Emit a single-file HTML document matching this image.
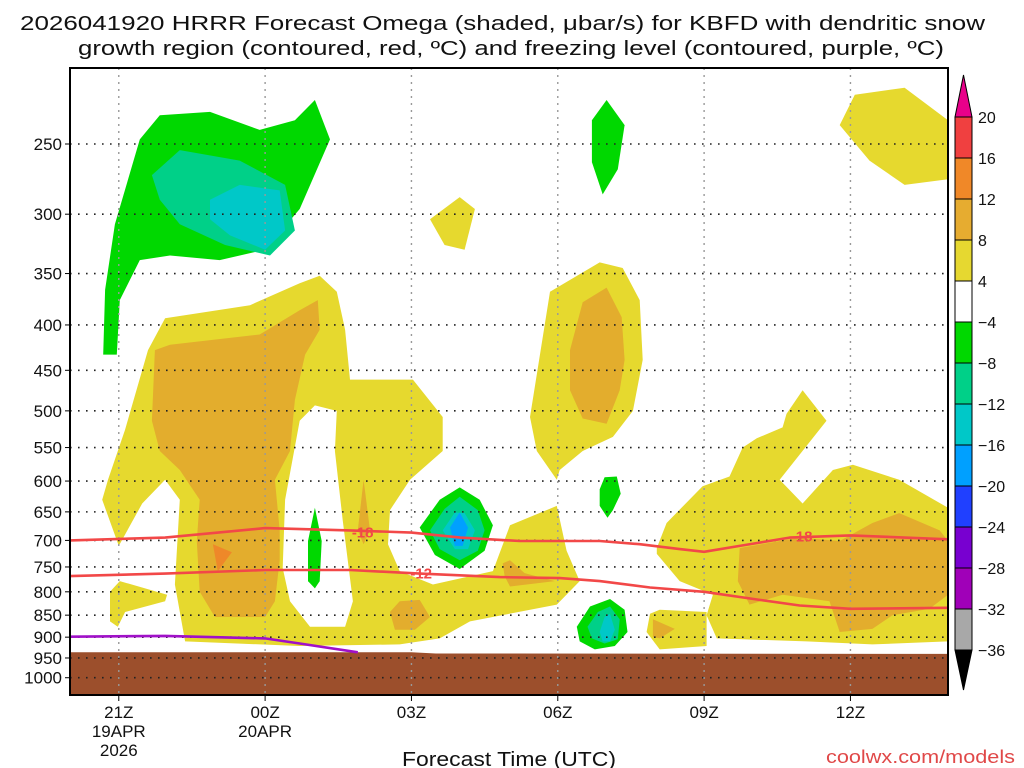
<!DOCTYPE html>
<html><head><meta charset="utf-8"><title>HRRR Omega KBFD</title>
<style>
html,body{margin:0;padding:0;background:#fff;width:1024px;height:768px;overflow:hidden}
svg{display:block}
text{font-family:"Liberation Sans","DejaVu Sans",sans-serif;fill:#111}
</style></head>
<body>
<svg id="chart" width="1024" height="768" viewBox="0 0 1024 768" xmlns="http://www.w3.org/2000/svg">
<text x="20" y="30" font-size="20" textLength="965" lengthAdjust="spacingAndGlyphs">2026041920 HRRR Forecast Omega (shaded, μbar/s) for KBFD with dendritic snow</text>
<text x="78" y="55" font-size="20" textLength="866" lengthAdjust="spacingAndGlyphs">growth region (contoured, red, ºC) and freezing level (contoured, purple, ºC)</text>
<g id="plot"></g>
<g id="axes"></g>
<g id="cbar"></g>
<text x="509" y="766" font-size="20" text-anchor="middle" textLength="214" lengthAdjust="spacingAndGlyphs">Forecast Time (UTC)</text>
<text x="826" y="763" font-size="18" style="fill:#e04848" textLength="189" lengthAdjust="spacingAndGlyphs">coolwx.com/models</text>
</svg>
<script>
// ---- data ----
const pressureTicks = [250,300,350,400,450,500,550,600,650,700,750,800,850,900,950,1000];
const timeTickHours = [1,4,7,10,13,16];
const timeTickLabels = [["21Z","19APR","2026"],["00Z","20APR"],["03Z"],["06Z"],["09Z"],["12Z"]];
const cbarLevels = [20,16,12,8,4,-4,-8,-12,-16,-20,-24,-28,-32,-36];
const cbarColors = ["#f04040","#f08828","#e6ac30","#e6d830","#ffffff","#00d800","#00d088","#00c8c8","#00a0ff","#2040ff","#7800d0","#a000b8","#a8a8a8"];
const surfaceHours = [0,7,7.5,18];
const surfacePressure = [936,936,939,940];
const dgzTopHours = [0,1.95,4,5.74,7,8,9.22,10.86,11.68,12.5,13,13.73,14.75,16,18];
const dgzTopP = [700,695,678,682,686,695,701,701,707,716,721,710,695,691,698];
const dgzBotHours = [0,1.95,4,5.74,7.17,8.81,10.04,10.86,11.89,13,14.14,14.96,16,18];
const dgzBotP = [768,763,756,756,763,770,772,778,791,800,817,829,836,834];
const frzHours = [0,1.95,4,4.71,5.9];
const frzP = [899,897,903,915,936];
const contourLabels = [["-18",6.0,686],["-18",15.0,693],["-12",7.2,763]];
// omega shaded regions [hour, pressure]
const yellowMain = [[0.78,598],[1.13,525],[1.6,427],[1.95,393],[3.69,380],[4.71,359],[5.12,352],[5.47,367],[5.64,405],[5.74,461],[7.03,461],[7.64,508],[7.64,555],[6.97,598],[6.56,647],[6.52,707],[6.76,758],[7.44,785],[8.67,758],[9.02,673],[9.98,640],[10.18,719],[10.45,778],[9.98,827],[8.2,864],[7.58,903],[6.76,917],[4.71,921],[2.36,910],[2.15,785],[2.25,630],[1.95,598],[1.48,636],[1.0,710],[0.66,630]];
const whiteHole = [[4.71,513],[5.02,493],[5.47,500],[5.43,555],[5.59,664],[5.8,820],[5.64,876],[4.92,876],[4.51,820],[4.36,752],[4.41,630]];
const yellowLeftBlob = [[0.82,800],[1.02,778],[1.99,806],[1.95,820],[1.13,843],[0.98,876],[0.82,864]];
const yellow06Z = [[9.43,508],[9.84,367],[10.86,340],[11.33,345],[11.68,375],[11.74,438],[11.54,500],[11.13,535],[10.51,555],[10.04,583],[9.98,598],[9.57,555]];
const yellowSmall = [[7.38,304],[7.99,287],[8.3,296],[8.09,329],[7.68,325]];
const yellowTopRight = [[15.78,238],[16.09,220],[17.11,216],[18,235],[18,274],[17.11,278],[16.39,261]];
const yellowRight = [[12.03,714],[12.23,669],[12.97,608],[13.52,593],[13.79,550],[14.08,537],[14.61,522],[14.69,504],[15.02,474],[15.51,513],[14.55,598],[15.02,636],[15.64,583],[16.05,575],[17.0,598],[18,643],[18,910],[16.45,917],[15.1,910],[13.26,903],[13.05,850],[13.18,806],[12.5,778],[12.03,725]];
const yellowTongue = [[11.89,847],[12.09,838],[13.05,843],[13.05,921],[12.09,929],[11.82,888]];
const orangeLeft = [[1.74,427],[2.05,421],[3.89,410],[4.71,385],[5.08,375],[5.12,405],[4.82,432],[4.61,486],[4.51,555],[4.2,598],[4.3,682],[4.3,737],[4.2,820],[4.0,854],[2.97,854],[2.66,800],[2.6,701],[2.66,630],[2.25,583],[1.84,555],[1.68,513]];
const orange06Z = [[10.25,427],[10.51,377],[11.0,363],[11.31,392],[11.37,438],[11.27,474],[11.0,517],[10.51,510],[10.25,474]];
const orangeRight = [[13.73,714],[14.96,695],[15.78,701],[16.45,669],[17.0,652],[17.83,682],[18,701],[18,806],[17.62,836],[16.86,850],[16.45,881],[15.78,888],[15.57,820],[14.61,806],[13.93,827],[13.69,778]];
const orangeStrip = [[6.02,598],[6.15,682],[6.02,707],[5.9,682]];
const orange03Z = [[6.56,843],[6.76,820],[7.17,817],[7.38,854],[7.07,883],[6.66,883]];
const orange05Z = [[8.87,743],[9.02,737],[9.32,762],[9.94,778],[9.02,789],[8.91,768]];
const orangeTinyRight = [[11.95,859],[12.4,881],[12.09,903],[11.95,899]];
const darkOrangeLeft = [[2.93,707],[3.32,722],[3.03,758]];
const greenTopLeft = [[0.68,432],[0.72,365],[0.92,308],[1.43,247],[1.84,232],[2.87,230],[3.89,241],[4.61,235],[5.02,223],[5.33,247],[4.71,296],[4.0,329],[3.07,338],[2.05,334],[1.43,338],[1.02,375],[0.96,432]];
const tealTopLeft = [[1.68,271],[2.25,254],[3.48,261],[4.41,278],[4.61,313],[4.1,334],[3.18,325],[2.25,308],[1.84,289]];
const cyanTopLeft = [[2.87,289],[3.48,278],[4.3,282],[4.41,313],[4.0,329],[3.28,317],[2.87,304]];
const greenTopMid = [[11.0,223],[11.37,238],[11.23,267],[10.92,285],[10.7,262],[10.7,235]];
const green01Z = [[5.02,643],[5.16,701],[5.12,778],[5.02,793],[4.88,778],[4.88,701]];
const green04Z = [[7.17,677],[7.58,630],[7.99,610],[8.4,630],[8.67,673],[8.5,719],[7.99,754],[7.48,727]];
const teal04Z = [[7.38,682],[7.68,645],[7.99,625],[8.36,647],[8.5,682],[8.36,719],[7.99,737],[7.58,716]];
const cyan04Z = [[7.64,682],[7.89,651],[8.09,652],[8.3,682],[8.16,716],[7.89,716]];
const blue04Z = [[7.79,677],[7.99,651],[8.16,677],[8.05,710],[7.89,710]];
const green07Zsmall = [[10.86,613],[10.96,594],[11.21,593],[11.29,620],[11.13,647],[11.02,660],[10.86,640]];
const green07Z = [[10.39,876],[10.66,831],[11.07,815],[11.37,838],[11.43,888],[11.17,921],[10.76,929],[10.45,910]];
const teal07Z = [[10.61,876],[10.82,843],[11.07,831],[11.27,859],[11.23,905],[10.96,915],[10.7,903]];
const cyan07Z = [[10.86,888],[10.96,854],[11.07,847],[11.17,883],[11.07,910],[10.92,910]];

// ---- axes ----
const X0=70, X1=948, Y0=68, Y1=695, H_MAX=18;
const P_REF=250, Y_REF=144, LOG_SCALE=385;
function xScale(h){return X0 + h*(X1-X0)/H_MAX;}
function yScale(p){return Y_REF + LOG_SCALE*Math.log(p/P_REF);}
const NS="http://www.w3.org/2000/svg";
function mk(tag,attrs,parent){const e=document.createElementNS(NS,tag);for(const k in attrs)e.setAttribute(k,attrs[k]);parent.appendChild(e);return e;}
function ptsStr(arr){return arr.map(d=>xScale(d[0]).toFixed(1)+","+yScale(d[1]).toFixed(1)).join(" ");}

const plot=document.getElementById("plot");
const defs=mk("defs",{},plot);
const cp=mk("clipPath",{id:"clip"},defs);
mk("rect",{x:X0,y:Y0,width:X1-X0,height:Y1-Y0},cp);
const g=mk("g",{"clip-path":"url(#clip)"},plot);
mk("rect",{x:X0,y:Y0,width:X1-X0,height:Y1-Y0,fill:"#fff"},g);

const Y="#e6d92e",O="#e3ad2d",DO="#ee8829",G="#00d800",T="#00d088",C="#00c8c8",B="#00a0ff",W="#ffffff";
const shapes=[
 [yellowMain,Y,"omega-4-8-main"],[whiteHole,W,"omega-neutral-gap"],[yellowLeftBlob,Y,"omega-4-8-left-blob"],
 [yellow06Z,Y,"omega-4-8-06z"],[yellowSmall,Y,"omega-4-8-small"],[yellowTopRight,Y,"omega-4-8-top-right"],
 [yellowRight,Y,"omega-4-8-right"],[yellowTongue,Y,"omega-4-8-tongue"],
 [orangeLeft,O,"omega-8-12-left"],[orange06Z,O,"omega-8-12-06z"],[orangeRight,O,"omega-8-12-right"],
 [orangeStrip,O,"omega-8-12-strip"],[orange03Z,O,"omega-8-12-03z"],[orange05Z,O,"omega-8-12-05z"],
 [orangeTinyRight,O,"omega-8-12-tiny"],[darkOrangeLeft,DO,"omega-12-16-left"],
 [greenTopLeft,G,"omega-neg4-neg8-top-left"],[tealTopLeft,T,"omega-neg8-neg12-top-left"],[cyanTopLeft,C,"omega-neg12-neg16-top-left"],
 [greenTopMid,G,"omega-neg4-neg8-top-mid"],[green01Z,G,"omega-neg4-neg8-01z"],
 [green04Z,G,"omega-neg4-neg8-04z"],[teal04Z,T,"omega-neg8-neg12-04z"],[cyan04Z,C,"omega-neg12-neg16-04z"],[blue04Z,B,"omega-neg16-neg20-04z"],
 [green07Zsmall,G,"omega-neg4-neg8-07z-small"],[green07Z,G,"omega-neg4-neg8-07z"],[teal07Z,T,"omega-neg8-neg12-07z"],[cyan07Z,C,"omega-neg12-neg16-07z"]
];
shapes.forEach(s=>{
 const el=mk("polygon",{points:ptsStr(s[0]),fill:s[1]},g);
 
 
});
// ground
const ground=[];
surfaceHours.forEach((h,i)=>ground.push([h,surfacePressure[i]]));
ground.push([H_MAX,1100],[0,1100]);
const gEl=mk("polygon",{points:ptsStr(ground),fill:"#9c4f2c"},g);



// gridlines
pressureTicks.forEach(p=>{
 const y=yScale(p);
 const l=mk("line",{x1:X0,x2:X1,y1:y,y2:y,stroke:"#222","stroke-width":1.6,"stroke-dasharray":"1.6 6.4"},g);
 
 
});
timeTickHours.forEach(h=>{
 const x=xScale(h);
 const l=mk("line",{x1:x,x2:x,y1:Y0,y2:Y1,stroke:"#999","stroke-width":1.4,"stroke-dasharray":"2 5"},g);
 
 
});
// contour lines
function line(hs,ps,color,name){
 const arr=hs.map((h,i)=>[h,ps[i]]);
 const el=mk("polyline",{points:ptsStr(arr),fill:"none",stroke:color,"stroke-width":2.6,"stroke-linejoin":"round"},g);
 
 
}
line(dgzTopHours,dgzTopP,"#f24848","dgz-minus18-contour");
line(dgzBotHours,dgzBotP,"#f24848","dgz-minus12-contour");
line(frzHours,frzP,"#a010c8","freezing-level-contour");
contourLabels.forEach(c=>{
 const t=mk("text",{x:xScale(c[1]),y:yScale(c[2])+5,"font-size":15,"font-weight":"bold","text-anchor":"middle",style:"fill:#f24848"},g);
 t.textContent=c[0];
 
 
});

// axes
const axes=document.getElementById("axes");
const fr=mk("rect",{x:X0,y:Y0,width:X1-X0,height:Y1-Y0,fill:"none",stroke:"#000","stroke-width":2},axes);


pressureTicks.forEach(p=>{
 const y=yScale(p);
 mk("line",{x1:X0-5,x2:X0,y1:y,y2:y,stroke:"#000","stroke-width":1},axes);
 const t=mk("text",{x:X0-8,y:y+6,"font-size":17,"text-anchor":"end"},axes);
 t.textContent=p;
 
 
});
timeTickHours.forEach((h,i)=>{
 const x=xScale(h);
 mk("line",{x1:x,x2:x,y1:Y1,y2:Y1+6,stroke:"#000","stroke-width":1},axes);
 timeTickLabels[i].forEach((s,j)=>{
  const t=mk("text",{x:x,y:718+j*19,"font-size":17,"text-anchor":"middle"},axes);
  t.textContent=s;
  
  
 });
});

// colorbar
const cb=document.getElementById("cbar");
const CBX=955, CBW=17, CBT=117, CBB=650;
const step=(CBB-CBT)/(cbarLevels.length-1);
const tt=mk("polygon",{points:`${CBX},${CBT} ${CBX+CBW},${CBT} ${CBX+CBW/2},${CBT-42}`,fill:"#e8008a",stroke:"#000","stroke-width":1},cb);


cbarColors.forEach((c,i)=>{
 const r=mk("rect",{x:CBX,y:CBT+i*step,width:CBW,height:step,fill:c,stroke:"#000","stroke-width":1},cb);
 
 
});
const bt=mk("polygon",{points:`${CBX},${CBB} ${CBX+CBW},${CBB} ${CBX+CBW/2},${CBB+40}`,fill:"#000",stroke:"#000","stroke-width":1},cb);


cbarLevels.forEach((v,i)=>{
 const t=mk("text",{x:978,y:CBT+i*step+6,"font-size":16},cb);
 t.textContent=v<0?"\u2212"+(-v):String(v);
 
 
});
</script>
</body></html>
